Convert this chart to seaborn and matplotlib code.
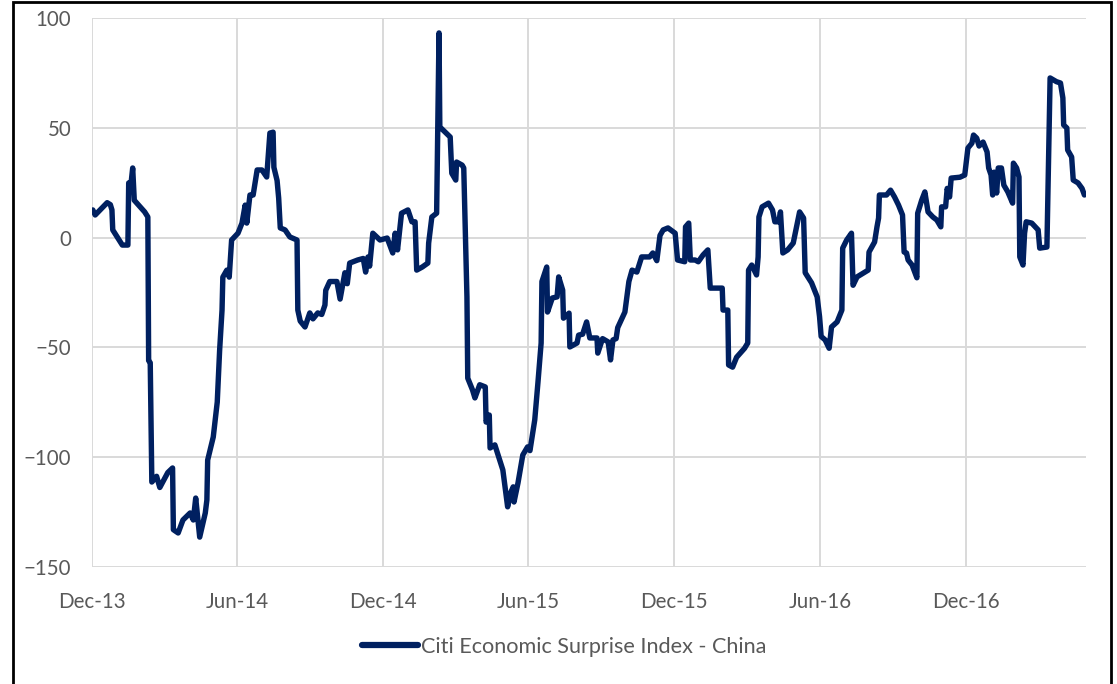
import matplotlib
matplotlib.use("Agg")
import matplotlib.pyplot as plt
import matplotlib.dates as mdates
from matplotlib.patches import Rectangle
import pandas as pd
import seaborn as sns

# Citi Economic Surprise Index - China, Dec 2013 to Apr 2017
dates = [
    "2013-12-02", "2013-12-05", "2013-12-20", "2013-12-24", "2013-12-26", "2013-12-27",
    "2014-01-08", "2014-01-15", "2014-01-16", "2014-01-19", "2014-01-21", "2014-01-23",
    "2014-02-05", "2014-02-09", "2014-02-10", "2014-02-12", "2014-02-14", "2014-02-20",
    "2014-02-24", "2014-03-06", "2014-03-12", "2014-03-13", "2014-03-19", "2014-03-25",
    "2014-04-03", "2014-04-07", "2014-04-10", "2014-04-13", "2014-04-15", "2014-04-22",
    "2014-04-24", "2014-04-25", "2014-05-02", "2014-05-07", "2014-05-10", "2014-05-13",
    "2014-05-14", "2014-05-19", "2014-05-22", "2014-05-25", "2014-06-02", "2014-06-07",
    "2014-06-11", "2014-06-13", "2014-06-17", "2014-06-21", "2014-06-26", "2014-07-02",
    "2014-07-08", "2014-07-12", "2014-07-16", "2014-07-17", "2014-07-21", "2014-07-23",
    "2014-07-25", "2014-07-31", "2014-08-06", "2014-08-15", "2014-08-16", "2014-08-19",
    "2014-08-25", "2014-08-31", "2014-09-04", "2014-09-10", "2014-09-15", "2014-09-19",
    "2014-09-20", "2014-09-25", "2014-10-04", "2014-10-08", "2014-10-14", "2014-10-17",
    "2014-10-20", "2014-10-30", "2014-11-06", "2014-11-09", "2014-11-12", "2014-11-14",
    "2014-11-18", "2014-11-27", "2014-12-06", "2014-12-13", "2014-12-16", "2014-12-19",
    "2014-12-24", "2015-01-01", "2015-01-06", "2015-01-10", "2015-01-12", "2015-01-19",
    "2015-01-26", "2015-01-27", "2015-01-31", "2015-02-06", "2015-02-09", "2015-02-10",
    "2015-02-23", "2015-02-25", "2015-03-02", "2015-03-03", "2015-03-10", "2015-03-12",
    "2015-03-16", "2015-03-17", "2015-03-23", "2015-03-26", "2015-04-01", "2015-04-08",
    "2015-04-09", "2015-04-13", "2015-04-14", "2015-04-20", "2015-04-24", "2015-04-30",
    "2015-05-06", "2015-05-10", "2015-05-13", "2015-05-14", "2015-05-19", "2015-05-25",
    "2015-05-31", "2015-06-03", "2015-06-09", "2015-06-13", "2015-06-17", "2015-06-18",
    "2015-06-24", "2015-06-25", "2015-07-01", "2015-07-07", "2015-07-09", "2015-07-14",
    "2015-07-15", "2015-07-22", "2015-07-23", "2015-08-01", "2015-08-03", "2015-08-08",
    "2015-08-13", "2015-08-17", "2015-08-26", "2015-08-27", "2015-09-02", "2015-09-09",
    "2015-09-12", "2015-09-15", "2015-09-19", "2015-09-21", "2015-09-30", "2015-10-05",
    "2015-10-09", "2015-10-15", "2015-10-21", "2015-10-31", "2015-11-04", "2015-11-09",
    "2015-11-13", "2015-11-17", "2015-11-23", "2015-12-02", "2015-12-05", "2015-12-14",
    "2015-12-15", "2015-12-19", "2015-12-21", "2015-12-27", "2015-12-31", "2016-01-06",
    "2016-01-12", "2016-01-15", "2016-01-30", "2016-01-31", "2016-02-06", "2016-02-07",
    "2016-02-12", "2016-02-17", "2016-02-27", "2016-03-02", "2016-03-03", "2016-03-07",
    "2016-03-13", "2016-03-15", "2016-03-16", "2016-03-20", "2016-03-28", "2016-04-02",
    "2016-04-05", "2016-04-10", "2016-04-12", "2016-04-15", "2016-04-21", "2016-04-28",
    "2016-05-06", "2016-05-11", "2016-05-13", "2016-05-21", "2016-05-28", "2016-05-31",
    "2016-06-02", "2016-06-07", "2016-06-12", "2016-06-15", "2016-06-22", "2016-06-28",
    "2016-06-29", "2016-07-04", "2016-07-10", "2016-07-12", "2016-07-17", "2016-07-31",
    "2016-08-01", "2016-08-08", "2016-08-11", "2016-08-13", "2016-08-14", "2016-08-23",
    "2016-08-28", "2016-09-02", "2016-09-07", "2016-09-12", "2016-09-14", "2016-09-17",
    "2016-09-19", "2016-09-24", "2016-09-30", "2016-10-01", "2016-10-06", "2016-10-10",
    "2016-10-14", "2016-10-20", "2016-10-25", "2016-10-30", "2016-10-31", "2016-11-05",
    "2016-11-07", "2016-11-10", "2016-11-12", "2016-11-23", "2016-11-29", "2016-12-03",
    "2016-12-08", "2016-12-10", "2016-12-14", "2016-12-17", "2016-12-22", "2016-12-27",
    "2016-12-29", "2017-01-01", "2017-01-03", "2017-01-05", "2017-01-08", "2017-01-10",
    "2017-01-14", "2017-01-17", "2017-01-22", "2017-01-28", "2017-01-29", "2017-02-02",
    "2017-02-05", "2017-02-06", "2017-02-10", "2017-02-12", "2017-02-14", "2017-02-21",
    "2017-03-01", "2017-03-03", "2017-03-12", "2017-03-16", "2017-03-24", "2017-03-29",
    "2017-04-01", "2017-04-02", "2017-04-06", "2017-04-07", "2017-04-12", "2017-04-14",
    "2017-04-20", "2017-04-25", "2017-04-28",
]

cesi_china = [
    12.6, 10.3, 15.9, 15.0, 12.6, 3.5,
    -3.4, -3.4, 24.9, 24.9, 31.7, 17.0,
    11.7, 9.4, -56.0, -57.0, -111.3, -108.7,
    -113.8, -107.0, -104.9, -133.0, -134.5, -128.6,
    -125.4, -128.6, -118.6, -129.5, -136.4, -125.4,
    -119.5, -101.3, -90.8, -74.9, -51.2, -33.0,
    -18.0, -14.8, -18.0, -1.1, 2.0, 6.6,
    14.8, 6.6, 19.4, 19.4, 30.8, 30.8,
    27.6, 47.6, 48.0, 32.0, 26.0, 18.0,
    4.4, 3.5, 0.3, -1.1, -33.0, -38.0,
    -40.7, -34.3, -37.0, -34.3, -35.0, -30.7,
    -24.0, -20.0, -20.0, -28.0, -16.0, -21.0,
    -11.6, -10.2, -9.5, -15.7, -8.8, -13.0,
    2.0, -1.1, -0.2, -7.0, 2.0, -5.6,
    11.1, 12.6, 7.2, 7.2, -14.8, -13.4,
    -11.6, -2.5, 9.4, 11.1, 93.2, 50.4,
    45.8, 29.3, 26.2, 34.4, 33.0, 31.7,
    -27.0, -64.0, -69.4, -73.0, -67.0, -68.0,
    -84.0, -80.8, -95.8, -94.4, -99.0, -105.8,
    -122.6, -116.0, -113.5, -120.4, -111.7, -99.0,
    -95.3, -97.0, -83.0, -66.0, -48.0, -20.0,
    -13.4, -33.9, -27.5, -27.0, -17.9, -23.9,
    -36.7, -34.4, -49.8, -48.0, -44.4, -44.0,
    -38.4, -45.7, -45.7, -52.6, -46.0, -47.5,
    -55.7, -46.6, -46.0, -41.0, -33.9, -20.0,
    -14.8, -15.7, -8.8, -8.8, -7.0, -10.5,
    1.0, 3.5, 4.4, 2.0, -10.2, -11.0,
    4.9, 6.6, -10.2, -10.2, -11.0, -7.9,
    -5.6, -23.0, -23.0, -33.0, -33.0, -58.0,
    -59.0, -54.5, -50.4, -48.0, -14.8, -12.5,
    -17.0, -8.8, 9.4, 14.0, 15.7, 12.6,
    7.2, 7.2, 11.7, -7.0, -5.6, -2.5,
    11.7, 8.9, -16.0, -20.6, -27.0, -36.0,
    -45.0, -46.6, -50.4, -40.7, -38.4, -33.0,
    -4.8, -1.1, 2.0, -21.7, -17.9, -14.8,
    -6.6, -2.0, 4.9, 8.9, 19.4, 19.4,
    21.6, 18.5, 14.8, 10.3, -6.6, -7.0,
    -10.2, -12.5, -18.3, 11.1, 17.0, 20.8,
    11.7, 9.4, 8.0, 4.9, 14.0, 14.0,
    22.4, 18.5, 27.1, 27.5, 28.5, 40.8,
    43.0, 46.7, 45.3, 41.7, 43.5, 39.0,
    31.7, 28.5, 19.4, 29.8, 20.3, 31.7,
    31.7, 23.9, 20.8, 15.7, 33.9, 31.7,
    27.6, -8.8, -12.5, 2.0, 7.2, 6.6,
    3.5, -4.8, -4.3, 72.7, 71.0, 70.4,
    63.6, 51.3, 49.9, 39.9, 36.7, 26.2,
    24.9, 22.4, 19.4,
]

series_name = "Citi Economic Surprise Index - China"
y_ticks = [-150, -100, -50, 0, 50, 100]
x_ticks = ["2013-12-01", "2014-06-01", "2014-12-01", "2015-06-01",
           "2015-12-01", "2016-06-01", "2016-12-01"]

df = pd.DataFrame({"date": pd.to_datetime(dates), "value": cesi_china,
                   "series": series_name})

sns.set_theme(style="white")
plt.rcParams["font.family"] = ["Lato", "DejaVu Sans"]

line_color = "#002060"
text_color = "#595959"
grid_color = "#D9D9D9"

fig = plt.figure(figsize=(11.17, 6.84), dpi=100)
ax = fig.add_axes([92 / 1117, 1 - 567 / 684, (1086 - 92) / 1117, (567 - 18) / 684])

sns.lineplot(data=df, x="date", y="value", hue="series", palette=[line_color],
             estimator=None, sort=False, linewidth=3.9, ax=ax, legend=True)
for ln in ax.get_lines():
    ln.set_solid_joinstyle("round")
    ln.set_solid_capstyle("round")

ax.set_xlim(pd.Timestamp("2013-12-01"), pd.Timestamp("2017-04-30"))
ax.set_ylim(-150, 100)
ax.set_yticks(y_ticks)
ax.set_xticks(pd.to_datetime(x_ticks))
ax.xaxis.set_major_formatter(mdates.DateFormatter("%b-%y"))

ax.grid(True, color=grid_color, linewidth=1.4)
ax.set_axisbelow(True)
for s in ax.spines.values():
    s.set_visible(False)
ax.tick_params(axis="both", length=0, labelsize=14.8, colors=text_color)
ax.tick_params(axis="y", pad=15)
ax.tick_params(axis="x", pad=18)
ax.set_xlabel("")
ax.set_ylabel("")

handles, labels = ax.get_legend_handles_labels()
ax.get_legend().remove()
leg = fig.legend(handles, labels, loc="center",
                 bbox_to_anchor=(564 / 1117, 1 - 647 / 684),
                 frameon=False, fontsize=15.6, handlelength=2.6,
                 handletextpad=0.15, labelcolor=text_color)
for h in leg.get_lines():
    h.set_linewidth(4.5)
    h.set_solid_capstyle("round")

# Outer black frame around the figure
fig.patches.append(Rectangle((13 / 1117, -0.01), (1111 - 13) / 1117, 1.01 - 2 / 684,
                             transform=fig.transFigure, fill=False,
                             edgecolor="black", linewidth=2.0))

fig.savefig("out.png", dpi=100)
